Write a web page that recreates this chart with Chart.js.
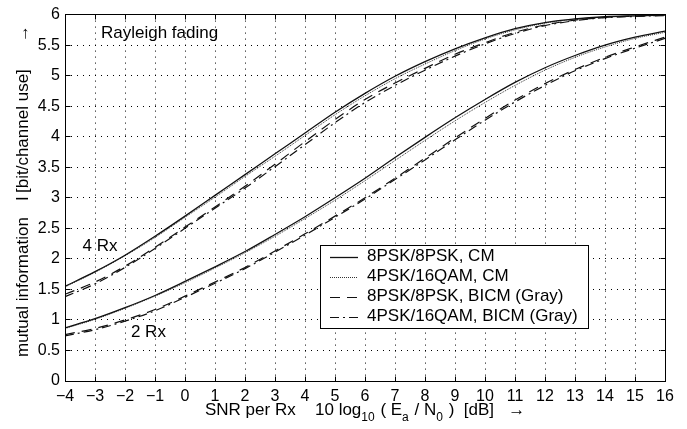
<!DOCTYPE html>
<html>
<head>
<meta charset="utf-8">
<script src="https://cdn.jsdelivr.net/npm/chart.js@4.4.1/dist/chart.umd.min.js"></script>
<style>
  html, body { margin: 0; padding: 0; background: #fff; }
  #grafica { width: 687px; height: 429px; }
</style>
</head>
<body>
<div id="grafica"><canvas id="graphicChart"></canvas></div>
<script>
// SNR por antena receptora [dB]
const snr = [-4, -3, -2, -1, 0, 1, 2, 3, 4, 5, 6, 7, 8, 9, 10, 11, 12, 13, 14, 15, 16];

// 4 Rx
const cm8psk4 = [1.55, 1.79, 2.06, 2.37, 2.70, 3.04, 3.38, 3.72, 4.06, 4.40, 4.71, 4.99, 5.23, 5.44, 5.62, 5.77, 5.87, 5.93, 5.965, 5.98, 5.99];
const cm16qam4 = [1.54, 1.78, 2.05, 2.35, 2.68, 3.01, 3.35, 3.68, 4.02, 4.36, 4.67, 4.95, 5.19, 5.41, 5.60, 5.75, 5.86, 5.925, 5.96, 5.98, 5.99];
const bicm8psk4 = [1.42, 1.62, 1.88, 2.19, 2.52, 2.85, 3.19, 3.55, 3.92, 4.28, 4.61, 4.88, 5.12, 5.35, 5.54, 5.71, 5.83, 5.91, 5.955, 5.975, 5.99];
const bicm16qam4 = [1.38, 1.59, 1.86, 2.17, 2.50, 2.83, 3.16, 3.51, 3.87, 4.23, 4.56, 4.84, 5.09, 5.32, 5.52, 5.69, 5.82, 5.90, 5.95, 5.97, 5.985];

// 2 Rx
const cm8psk2 = [0.87, 1.02, 1.20, 1.40, 1.63, 1.87, 2.12, 2.40, 2.69, 3.00, 3.32, 3.66, 3.99, 4.31, 4.61, 4.89, 5.13, 5.33, 5.50, 5.63, 5.73];
const cm16qam2 = [0.86, 1.01, 1.19, 1.39, 1.61, 1.85, 2.10, 2.37, 2.66, 2.96, 3.28, 3.61, 3.94, 4.26, 4.56, 4.84, 5.09, 5.30, 5.47, 5.61, 5.71];
const bicm8psk2 = [0.76, 0.86, 1.00, 1.17, 1.39, 1.62, 1.86, 2.13, 2.41, 2.70, 3.00, 3.32, 3.65, 3.98, 4.30, 4.60, 4.87, 5.10, 5.30, 5.47, 5.63];
const bicm16qam2 = [0.74, 0.84, 0.98, 1.15, 1.37, 1.60, 1.84, 2.11, 2.39, 2.68, 2.98, 3.30, 3.62, 3.95, 4.27, 4.57, 4.84, 5.08, 5.28, 5.45, 5.61];

const leyenda = ["8PSK/8PSK, CM", "4PSK/16QAM, CM", "8PSK/8PSK, BICM (Gray)", "4PSK/16QAM, BICM (Gray)"];
const series4 = [cm8psk4, cm16qam4, bicm8psk4, bicm16qam4];
const series2 = [cm8psk2, cm16qam2, bicm8psk2, bicm16qam2];

const fuente = "'Liberation Sans', Arial, sans-serif";
const estilos = [
  { dash: [], width: 1.3, color: "#111" },
  { dash: [1, 1], width: 1, color: "#333" },
  { dash: [10, 7], width: 1.2, color: "#111" },
  { dash: [9, 4, 2, 4], width: 1.2, color: "#111" },
];

const alinear = (p) => Math.round(p - 0.5) + 0.5;
const etiqueta = (v) => String(v).replace("-", "\u2212");

// marco, ticks interiores, textos y leyenda
const marcoPlugin = {
  id: "marco",
  afterDatasetsDraw(chart) {
    const { ctx, chartArea: a, scales } = chart;
    const x = scales.x, y = scales.y;
    const l = alinear(a.left), r = alinear(a.right), t = alinear(a.top), b = alinear(a.bottom);
    ctx.save();
    ctx.strokeStyle = "#000";
    ctx.lineWidth = 1;
    ctx.setLineDash([]);
    ctx.strokeRect(l, t, r - l, b - t);
    ctx.beginPath();
    x.ticks.forEach((tk) => {
      const px = alinear(x.getPixelForValue(tk.value));
      ctx.moveTo(px, b); ctx.lineTo(px, b - 5);
      ctx.moveTo(px, t); ctx.lineTo(px, t + 5);
    });
    y.ticks.forEach((tk) => {
      const py = alinear(y.getPixelForValue(tk.value));
      ctx.moveTo(l, py); ctx.lineTo(l + 5, py);
      ctx.moveTo(r, py); ctx.lineTo(r - 5, py);
    });
    ctx.stroke();

    // anotaciones
    ctx.fillStyle = "#000";
    ctx.font = `17px ${fuente}`;
    ctx.textBaseline = "middle";
    ctx.textAlign = "left";
    ctx.fillText("Rayleigh fading", x.getPixelForValue(-2.8), y.getPixelForValue(5.70));
    ctx.textAlign = "center";
    ctx.fillText("4 Rx", x.getPixelForValue(-2.83), y.getPixelForValue(2.2));
    ctx.fillText("2 Rx", x.getPixelForValue(-1.22), y.getPixelForValue(0.79));

    // leyenda
    const bx = a.left + 255, by = a.top + 231, bw = 268, bh = 83;
    ctx.fillStyle = "#fff";
    ctx.fillRect(bx, by, bw, bh);
    ctx.strokeStyle = "#000";
    ctx.lineWidth = 1;
    ctx.strokeRect(alinear(bx), alinear(by), bw, bh);
    leyenda.forEach((txt, i) => {
      const ds = chart.data.datasets[i];
      const cy = by + 11 + 20 * i;
      ctx.beginPath();
      ctx.setLineDash(ds.borderDash);
      ctx.lineWidth = ds.borderWidth;
      ctx.strokeStyle = ds.borderColor;
      ctx.moveTo(bx + 10, Math.round(cy) + 0.5);
      ctx.lineTo(bx + 38, Math.round(cy) + 0.5);
      ctx.stroke();
      ctx.setLineDash([]);
      ctx.fillStyle = "#000";
      ctx.textAlign = "left";
      ctx.fillText(txt, bx + 47, cy);
    });
    ctx.restore();
  },
  afterDraw(chart) {
    const { ctx, chartArea: a } = chart;
    ctx.save();
    ctx.fillStyle = "#000";
    // titulo eje y
    ctx.font = `17px ${fuente}`;
    ctx.translate(a.left - 42, 0);
    ctx.rotate(-Math.PI / 2);
    ctx.textBaseline = "middle";
    ctx.textAlign = "left";
    ctx.fillText("mutual information", -(a.bottom - 24), 0);
    ctx.fillText("I", -(a.bottom - 180), 0);
    ctx.fillText("[bit/channel use]", -(a.bottom - 188), 0);
    ctx.fillText("\u2192", -(a.bottom - 339), 0);
    ctx.restore();

    // titulo eje x con subindices
    ctx.save();
    ctx.fillStyle = "#000";
    ctx.textBaseline = "alphabetic";
    ctx.textAlign = "left";
    const base = a.bottom + 34;
    ctx.font = `17px ${fuente}`;
    ctx.fillText("SNR per Rx", a.left + 140, base);
    const partes = [
      ["10 log", false], ["10", true], [" ( E", false], ["a", true],
      [" / N", false], ["0", true], [" )  [dB]   \u2192", false],
    ];
    let px = a.left + 250;
    partes.forEach(([txt, sub]) => {
      ctx.font = sub ? `12px ${fuente}` : `17px ${fuente}`;
      ctx.fillText(txt, px, sub ? base + 6 : base);
      px += ctx.measureText(txt).width + (sub ? 1 : 0);
    });
    ctx.restore();
  },
};

class GraficaMI {
  dom;
  constructor() {
    this.dom = document.querySelector("#grafica");
    this.renderGrafica();
  }

  crearDatasets = (series, rx) =>
    series.map((valores, i) => ({
      label: `${leyenda[i]} ${rx}`,
      data: snr.map((s, k) => ({ x: s, y: valores[k] })),
      borderColor: estilos[i].color,
      borderWidth: estilos[i].width,
      borderDash: estilos[i].dash,
      pointRadius: 0,
      fill: false,
      cubicInterpolationMode: "monotone",
    }));

  renderGrafica = () => {
    const ctx = this.dom.querySelector("#graphicChart");
    new Chart(ctx, {
      type: "line",
      data: {
        datasets: [...this.crearDatasets(series4, "4 Rx"), ...this.crearDatasets(series2, "2 Rx")],
      },
      options: {
        responsive: true,
        maintainAspectRatio: false,
        animation: false,
        layout: { padding: { left: 0, top: 12, right: 22, bottom: 0 } },
        plugins: { legend: { display: false }, tooltip: { enabled: false } },
        scales: {
          x: {
            type: "linear",
            min: -4,
            max: 16,
            afterFit: (scale) => { scale.height = 48; },
            ticks: { stepSize: 1, color: "#000", padding: 6, font: { family: fuente, size: 16 }, callback: etiqueta },
            grid: { color: "#000", lineWidth: 1, drawTicks: false },
            border: { display: false, dash: [1, 5] },
          },
          y: {
            min: 0,
            max: 6,
            afterFit: (scale) => { scale.width = 65; },
            ticks: { stepSize: 0.5, color: "#000", padding: 5, font: { family: fuente, size: 16 }, callback: etiqueta },
            grid: { color: "#000", lineWidth: 1, drawTicks: false },
            border: { display: false, dash: [1, 5] },
          },
        },
      },
      plugins: [marcoPlugin],
    });
  };
}

new GraficaMI();
</script>
</body>
</html>
